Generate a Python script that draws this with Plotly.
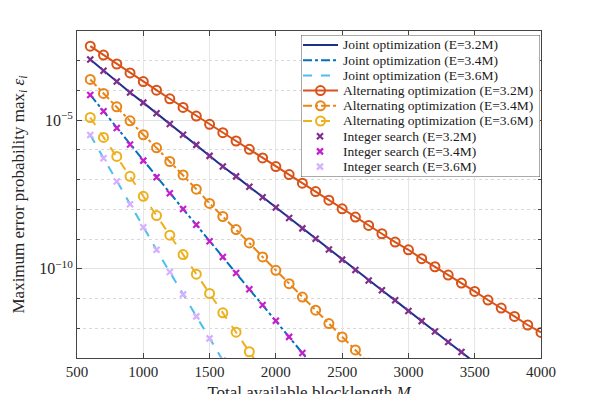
import plotly.graph_objects as go

# blocklength grid and log10 of max error probability
M_alt32 = list(range(600, 4001, 100))
alt_32 = [-2.51, -2.81, -3.11, -3.41, -3.70, -3.99, -4.28, -4.57, -4.86, -5.14,
          -5.42, -5.70, -5.98, -6.27, -6.56, -6.83, -7.12, -7.40, -7.69, -7.98,
          -8.26, -8.54, -8.82, -9.10, -9.36, -9.66, -9.93, -10.21, -10.48, -10.76,
          -11.05, -11.32, -11.60, -11.89, -12.14]

M_alt34 = list(range(600, 2701, 100))
alt_34 = [-3.63, -4.10, -4.55, -5.02, -5.49, -5.93, -6.39, -6.84, -7.32, -7.80,
          -8.24, -8.68, -9.13, -9.60, -10.05, -10.50, -10.95, -11.39, -11.84, -12.29,
          -12.73, -13.18]

M_alt36 = list(range(600, 1901, 100))
alt_36 = [-4.91, -5.58, -6.22, -6.89, -7.56, -8.21, -8.87, -9.52, -10.18, -10.83,
          -11.48, -12.13, -12.79, -13.44]

M_j32 = list(range(600, 3501, 100))
joint_32 = [-2.96, -3.34, -3.70, -4.07, -4.41, -4.77, -5.13, -5.49, -5.83, -6.20,
            -6.56, -6.89, -7.24, -7.59, -7.94, -8.29, -8.64, -8.99, -9.35, -9.69,
            -10.04, -10.39, -10.72, -11.06, -11.42, -11.76, -12.11, -12.46, -12.80, -13.15]

M_j34 = list(range(600, 2301, 100))
joint_34 = [-4.15, -4.70, -5.26, -5.82, -6.36, -6.92, -7.46, -7.99, -8.52, -9.07,
            -9.60, -10.14, -10.69, -11.22, -11.75, -12.29, -12.83, -13.37]

M_j36 = list(range(600, 1601, 100))
joint_36 = [-5.50, -6.28, -7.06, -7.83, -8.60, -9.36, -10.11, -10.86, -11.60, -12.34, -13.08]

# integer search points sit on the joint optimization curves
int_32 = joint_32
int_34 = joint_34
int_36 = joint_36

x_ticks = [500, 1000, 1500, 2000, 2500, 3000, 3500, 4000]
y_major = [-10, -5]
y_minor = [-13, -12, -11, -9, -8, -7, -6, -4, -3, -2]

FONT = "Liberation Serif"

series = [
    ("Joint optimization (E=3.2M)", "#202f8e", "line", "solid", M_j32, joint_32),
    ("Joint optimization (E=3.4M)", "#0072BD", "line", "dashdot", M_j34, joint_34),
    ("Joint optimization (E=3.6M)", "#4DBEEE", "line", "dash", M_j36, joint_36),
    ("Alternating optimization (E=3.2M)", "#D95319", "alt", "solid", M_alt32, alt_32),
    ("Alternating optimization (E=3.4M)", "#E8861A", "alt", "dashdot", M_alt34, alt_34),
    ("Alternating optimization (E=3.6M)", "#EDB120", "alt", "dash", M_alt36, alt_36),
    ("Integer search (E=3.2M)", "#7E2F8E", "int", None, M_j32, int_32),
    ("Integer search (E=3.4M)", "#C71ECB", "int", None, M_j34, int_34),
    ("Integer search (E=3.6M)", "#D5B0FF", "int", None, M_j36, int_36),
]

def style(kind, color, dash):
    if kind == "line":
        return dict(mode="lines", line=dict(color=color, width=2, dash=dash))
    if kind == "alt":
        return dict(mode="lines+markers", line=dict(color=color, width=2, dash=dash),
                    marker=dict(symbol="circle-open", size=9, color=color,
                                line=dict(width=2, color=color)))
    return dict(mode="markers",
                marker=dict(symbol="x-thin-open", size=6, color=color,
                            line=dict(width=2.2, color=color)))

fig = go.Figure()
for name, color, kind, dash, xs, ys in series:
    fig.add_trace(go.Scatter(x=xs, y=[10 ** v for v in ys], name=name,
                             showlegend=False, **style(kind, color, dash)))

# hand-made legend in a small overlay subplot (pixel-like units)
box_l, box_r, box_t, box_b = 301, 540, 35, 177
row_y = [45, 60.2, 75.4, 90.6, 105.8, 121, 136.2, 151.4, 166.6]
for (name, color, kind, dash, _, _), ry in zip(series, row_y):
    if kind == "int":
        fig.add_trace(go.Scatter(x=[320], y=[ry], xaxis="x2", yaxis="y2",
                                 showlegend=False, hoverinfo="skip", **style(kind, color, dash)))
    else:
        st = style(kind, color, dash)
        if kind == "alt":
            st["mode"] = "lines"
        fig.add_trace(go.Scatter(x=[303, 338], y=[ry, ry], xaxis="x2", yaxis="y2",
                                 showlegend=False, hoverinfo="skip", **st))
        if kind == "alt":
            st = style(kind, color, dash)
            st["mode"] = "markers"
            fig.add_trace(go.Scatter(x=[320.5], y=[ry], xaxis="x2", yaxis="y2",
                                     showlegend=False, hoverinfo="skip", **st))
    fig.add_annotation(x=341, y=ry, xref="x2", yref="y2", text=name, showarrow=False,
                       xanchor="left", yanchor="middle",
                       font=dict(family=FONT, size=13.5, color="#1a1a1a"))

fig.add_shape(type="rect", xref="x2", yref="y2", x0=box_l, x1=box_r, y0=box_t, y1=box_b,
              fillcolor="white", line=dict(color="#555555", width=1), layer="between")

# page body adds an 8px offset, so margins are shifted to compensate
OFF = 8
plot_l, plot_r, plot_t, plot_b = 77, 541, 31, 358
fig.update_layout(
    width=598, height=394,
    margin=dict(l=plot_l - OFF, r=598 - plot_r + OFF, t=plot_t - OFF, b=394 - plot_b + OFF),
    paper_bgcolor="white", plot_bgcolor="white",
    font=dict(family=FONT, size=14, color="#262626"),
    showlegend=False,
    xaxis2=dict(domain=[(box_l - plot_l) / (plot_r - plot_l), (box_r - plot_l) / (plot_r - plot_l)],
                range=[box_l, box_r], visible=False, fixedrange=True, anchor="y2"),
    yaxis2=dict(domain=[(plot_b - box_b) / (plot_b - plot_t), (plot_b - box_t) / (plot_b - plot_t)],
                range=[box_b, box_t], visible=False, fixedrange=True, anchor="x2"),
)

fig.update_layout(xaxis=dict(
    range=[500, 4000], tickvals=x_ticks, automargin=False,
    showgrid=True, gridcolor="#e6e6e6", gridwidth=1,
    showline=True, linecolor="#444444", linewidth=1, mirror="ticks",
    ticks="inside", ticklen=5, tickcolor="#444444",
    tickfont=dict(family=FONT, size=15),
    title=dict(text="Total available blocklength <i>M</i>", font=dict(family=FONT, size=17), standoff=11),
    zeroline=False,
))

fig.update_layout(yaxis=dict(
    type="log", range=[-13, -2], automargin=False,
    tickvals=[10 ** v for v in y_major],
    ticktext=["10<sup>\u221210</sup>", "10<sup>\u22125</sup>"],
    showgrid=True, gridcolor="#e3e3e3", gridwidth=1,
    showline=True, linecolor="#444444", linewidth=1, mirror="ticks",
    ticks="inside", ticklen=5, tickcolor="#444444",
    tickfont=dict(family=FONT, size=16),
    minor=dict(tickvals=[10 ** v for v in y_minor], showgrid=True, gridcolor="#d8d8d8",
               griddash="dot", ticks="inside", ticklen=3, tickcolor="#444444"),
    title=dict(text="Maximum error probability max<sub><i>i</i></sub> <i>\u03b5<sub>i</sub></i>",
               font=dict(family=FONT, size=17), standoff=10),
    zeroline=False,
))

fig.write_html("out.html")
